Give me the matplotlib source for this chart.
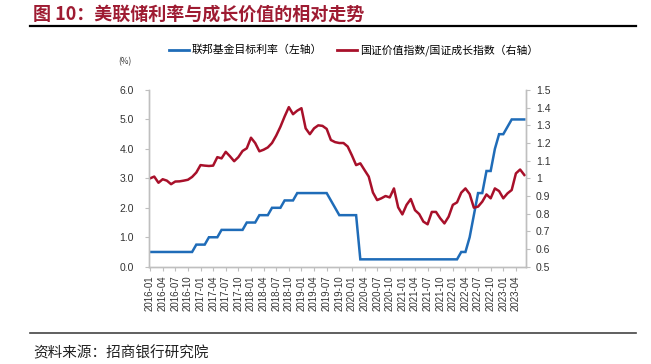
import matplotlib.pyplot as plt
import pandas as pd
from matplotlib.lines import Line2D

plt.rcParams['font.family'] = ['Noto Sans CJK SC', 'DejaVu Sans']

# monthly, 2016-01 .. 2023-06
months = pd.date_range('2016-01-01', '2023-06-01', freq='MS').strftime('%Y-%m').tolist()

# fed funds target rate (upper bound, %)
fed_rate = ([0.5] * 11 + [0.75] * 3 + [1.0] * 3 + [1.25] * 6 + [1.5] * 3 + [1.75] * 3
            + [2.0] * 3 + [2.25] * 3 + [2.5] * 8 + [2.25, 2.0] + [1.75] * 5
            + [0.25] * 24 + [0.5, 0.5, 1.0, 1.75, 2.5, 2.5, 3.25, 3.25, 4.0, 4.5, 4.5, 4.75,
                             5.0, 5.0, 5.0, 5.0])

# value index / growth index (right axis)
ratio = [1.000, 1.010, 0.975, 0.995, 0.987, 0.967, 0.982, 0.983, 0.987, 0.992,
         1.008, 1.033, 1.075, 1.072, 1.070, 1.072, 1.120, 1.113, 1.150, 1.125,
         1.097, 1.120, 1.155, 1.170, 1.230, 1.200, 1.153, 1.162, 1.175, 1.200,
         1.242, 1.292, 1.350, 1.403, 1.363, 1.383, 1.397, 1.283, 1.250, 1.283,
         1.300, 1.297, 1.280, 1.217, 1.205, 1.200, 1.200, 1.180, 1.130, 1.075,
         1.085, 1.047, 1.010, 0.920, 0.877, 0.887, 0.900, 0.892, 0.943, 0.836,
         0.796, 0.850, 0.883, 0.820, 0.798, 0.755, 0.740, 0.810, 0.810, 0.774,
         0.745, 0.783, 0.850, 0.864, 0.919, 0.943, 0.911, 0.834, 0.840, 0.868,
         0.909, 0.887, 0.943, 0.928, 0.887, 0.915, 0.934, 1.028, 1.050, 1.019]

blue = '#1F6CB8'
red = '#A8102A'
grey = '#BFBFBF'

fig = plt.figure(figsize=(6.51, 3.64), dpi=100)
ax = fig.add_axes([149 / 651, 1 - 266.7 / 364, 377 / 651, 176.7 / 364])
ax2 = ax.twinx()

x = list(range(len(months)))
ax.plot(x, fed_rate, color=blue, lw=1.8, solid_joinstyle='miter')
ax2.plot(x, ratio, color=red, lw=1.8)

ax.set_xlim(-0.25, 89.4)
ax.set_ylim(0, 6)
ax2.set_ylim(0.5, 1.5)
ax.set_yticks([0, 1, 2, 3, 4, 5, 6])
ax.set_yticklabels(['%.1f' % v for v in [0, 1, 2, 3, 4, 5, 6]])
ax2.set_yticks([0.5, 0.6, 0.7, 0.8, 0.9, 1.0, 1.1, 1.2, 1.3, 1.4, 1.5])
ax2.set_yticklabels(['0.5', '0.6', '0.7', '0.8', '0.9', '1', '1.1', '1.2', '1.3', '1.4', '1.5'])
ax.set_xticks(x[::3])
ax.set_xticklabels(months[::3], rotation=90)

for a in (ax, ax2):
    a.spines['top'].set_visible(False)
    for s in ('left', 'right', 'bottom'):
        a.spines[s].set_color(grey)
        a.spines[s].set_linewidth(1.0)
    a.tick_params(colors=grey, labelcolor='#333333', length=3, width=0.8)
    for lab in a.get_xticklabels() + a.get_yticklabels():
        lab.set_family('Liberation Sans')
        lab.set_fontsize(7.5)
for lab in ax.get_xticklabels():
    lab.set_fontsize(7)
ax.tick_params(axis='y', pad=8)
ax2.tick_params(axis='y', pad=4)

# title, rules and source
fig.text(33 / 651, 1 - 14 / 364, '图 10：美联储利率与成长价值的相对走势', color='#9E1B32',
         fontsize=13, fontweight='bold', va='center')
fig.add_artist(Line2D([30 / 651, 636 / 651], [1 - 25.5 / 364] * 2, color='black', lw=1.6))
fig.add_artist(Line2D([30 / 651, 636 / 651], [1 - 332.7 / 364] * 2, color='#444444', lw=1.2))
fig.text(33 / 651, 1 - 353 / 364, '资料来源：招商银行研究院', fontsize=10.5, va='center', color='#222222')
fig.text(118 / 651, 1 - 62 / 364, '(%)', fontsize=6, va='center', color='#333333')

handles = [Line2D([], [], color=blue, lw=2), Line2D([], [], color=red, lw=2)]
fig.legend(handles, ['联邦基金目标利率（左轴）', '国证价值指数/国证成长指数（右轴）'],
           loc='center left', bbox_to_anchor=(169 / 651, 1 - 50 / 364), ncol=2,
           frameon=False, fontsize=7.8, handlelength=1.8, handletextpad=0.3,
           columnspacing=1.4, borderpad=0, borderaxespad=0)

plt.savefig('out.png')
